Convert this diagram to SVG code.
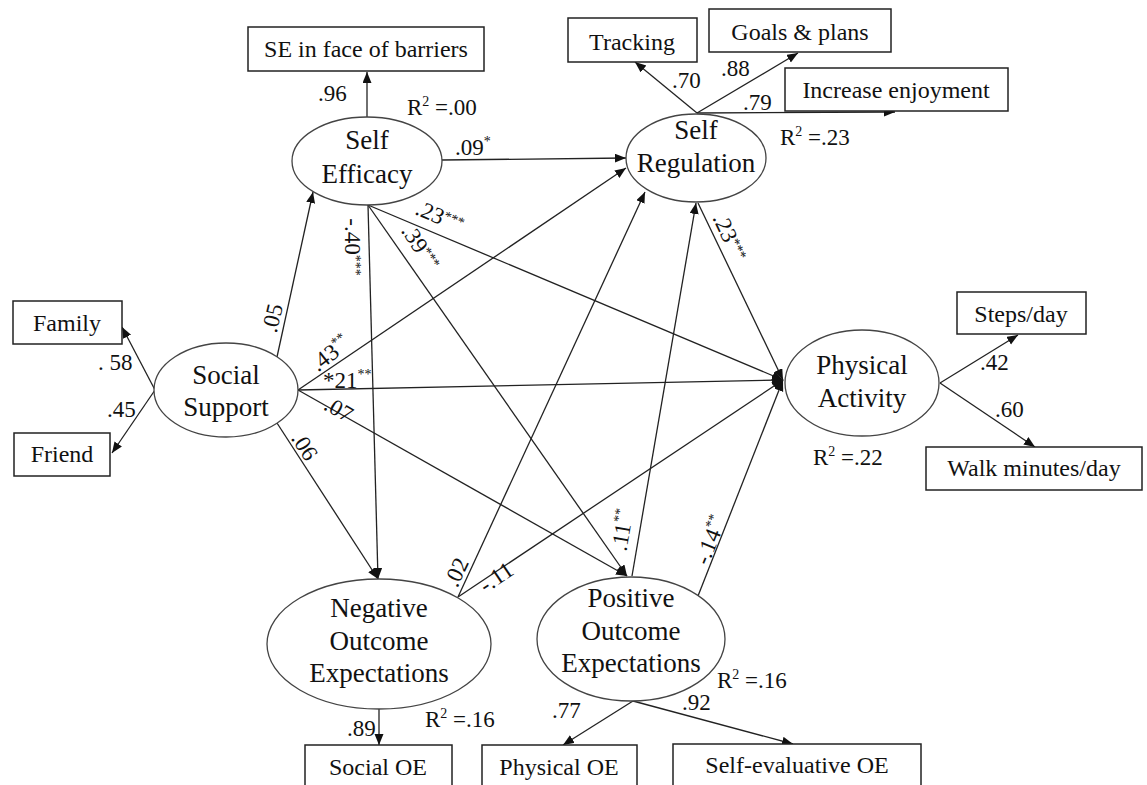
<svg xmlns="http://www.w3.org/2000/svg" width="1147" height="785" viewBox="0 0 1147 785">
<defs>
<marker id="ah" markerUnits="userSpaceOnUse" markerWidth="12" markerHeight="10" refX="11" refY="4.5" orient="auto">
<path d="M0,0 L11,4.5 L0,9 z" fill="#111"/>
</marker>
<style>
.ln{stroke:#222;stroke-width:1.3;fill:none;marker-end:url(#ah)}
.el{fill:#fff;stroke:#444;stroke-width:1.3}
.bx{fill:#fff;stroke:#222;stroke-width:1.5}
.nt{font-family:"Liberation Serif",serif;font-size:27px;text-anchor:middle;fill:#111}
.bt{font-family:"Liberation Serif",serif;font-size:24px;text-anchor:middle;fill:#111}
.cf{font-family:"Liberation Serif",serif;font-size:23px;fill:#111}
.cm{font-family:"Liberation Serif",serif;font-size:23px;fill:#111;text-anchor:middle}
.sp{font-size:14px}
</style>
</defs>
<rect width="1147" height="785" fill="#fff"/>
<g id="connectors">
<line class="ln" x1="367" y1="117" x2="367" y2="72"/>
<line class="ln" x1="442" y1="160" x2="626" y2="158"/>
<line class="ln" x1="368" y1="205" x2="783" y2="380"/>
<line class="ln" x1="368" y1="205" x2="627" y2="576"/>
<line class="ln" x1="368" y1="205" x2="378" y2="579"/>
<line class="ln" x1="277" y1="357" x2="313" y2="192"/>
<line class="ln" x1="298" y1="390" x2="626" y2="168"/>
<line class="ln" x1="298" y1="390" x2="783" y2="380"/>
<line class="ln" x1="298" y1="390" x2="627" y2="576"/>
<line class="ln" x1="277" y1="423" x2="378" y2="579"/>
<line class="ln" x1="155" y1="390" x2="122" y2="327"/>
<line class="ln" x1="155" y1="390" x2="112" y2="453"/>
<line class="ln" x1="458" y1="597" x2="645" y2="192"/>
<line class="ln" x1="458" y1="597" x2="783" y2="380"/>
<line class="ln" x1="632" y1="576" x2="696" y2="203"/>
<line class="ln" x1="698" y1="596" x2="783" y2="380"/>
<line class="ln" x1="698" y1="203" x2="783" y2="380"/>
<line class="ln" x1="697" y1="113" x2="635" y2="62"/>
<line class="ln" x1="697" y1="113" x2="798" y2="53"/>
<line class="ln" x1="697" y1="113" x2="895" y2="112"/>
<line class="ln" x1="940" y1="383" x2="1018" y2="335"/>
<line class="ln" x1="940" y1="383" x2="1035" y2="447"/>
<line class="ln" x1="379" y1="709" x2="379" y2="745"/>
<line class="ln" x1="633" y1="701" x2="563" y2="745"/>
<line class="ln" x1="633" y1="701" x2="793" y2="744"/>
</g>
<g id="labels">
<text class="cf" x="318" y="101">.96</text>
<text class="cf" x="407" y="115">R<tspan class="sp" dy="-9">2</tspan><tspan dy="9"> =.00</tspan></text>
<text class="cf" x="455" y="155">.09<tspan class="sp" dy="-9">*</tspan></text>
<text class="cf" x="672" y="88">.70</text>
<text class="cf" x="721" y="76">.88</text>
<text class="cf" x="743" y="110">.79</text>
<text class="cf" x="780" y="145">R<tspan class="sp" dy="-9">2</tspan><tspan dy="9"> =.23</tspan></text>
<text class="cf" x="98" y="370">. 58</text>
<text class="cf" x="107" y="417">.45</text>
<text class="cf" x="980" y="370">.42</text>
<text class="cf" x="995" y="417">.60</text>
<text class="cf" x="813" y="465">R<tspan class="sp" dy="-9">2</tspan><tspan dy="9"> =.22</tspan></text>
<text class="cf" x="347" y="736">.89</text>
<text class="cf" x="425" y="727">R<tspan class="sp" dy="-9">2</tspan><tspan dy="9"> =.16</tspan></text>
<text class="cf" x="552" y="718">.77</text>
<text class="cf" x="682" y="710">.92</text>
<text class="cf" x="717" y="688">R<tspan class="sp" dy="-9">2</tspan><tspan dy="9"> =.16</tspan></text>
<text class="cf" x="323" y="388">*21<tspan class="sp" dy="-9">**</tspan></text>
<text class="cm" transform="translate(272,318) rotate(-77)" y="8">.05</text>
<text class="cm" transform="translate(353,247) rotate(90)" y="8">-.40<tspan class="sp" dy="-6">***</tspan></text>
<text class="cm" transform="translate(440,216) rotate(23)" y="8">.23<tspan class="sp" dy="-6">***</tspan></text>
<text class="cm" transform="translate(421,247) rotate(56)" y="8">.39<tspan class="sp" dy="-6">***</tspan></text>
<text class="cm" transform="translate(330,353) rotate(-38)" y="8">.43<tspan class="sp" dy="-9">**</tspan></text>
<text class="cm" transform="translate(339,409) rotate(30)" y="8">.07</text>
<text class="cm" transform="translate(305,446) rotate(57)" y="8">.06</text>
<text class="cm" transform="translate(456,572) rotate(-65)" y="8">.02</text>
<text class="cm" transform="translate(496,577) rotate(-34)" y="8">-.11</text>
<text class="cm" transform="translate(622,530) rotate(-80)" y="8">.11<tspan class="sp" dy="-9">**</tspan></text>
<text class="cm" transform="translate(710,540) rotate(-68)" y="8">-.14<tspan class="sp" dy="-9">**</tspan></text>
<text class="cm" transform="translate(730,237) rotate(65)" y="8">.23<tspan class="sp" dy="-6">***</tspan></text>
</g>
<g id="self-efficacy">
<ellipse class="el" cx="367" cy="161" rx="75" ry="44"/>
<text class="nt" x="367" y="149">Self</text>
<text class="nt" x="367" y="183">Efficacy</text>
</g>
<g id="self-regulation">
<ellipse class="el" cx="696" cy="158" rx="70" ry="44"/>
<text class="nt" x="696" y="139">Self</text>
<text class="nt" x="696" y="172">Regulation</text>
</g>
<g id="social-support">
<ellipse class="el" cx="226" cy="390" rx="72" ry="47"/>
<text class="nt" x="226" y="384">Social</text>
<text class="nt" x="226" y="416">Support</text>
</g>
<g id="physical-activity">
<ellipse class="el" cx="862" cy="383" rx="77" ry="53"/>
<text class="nt" x="862" y="374">Physical</text>
<text class="nt" x="862" y="407">Activity</text>
</g>
<g id="negative-oe">
<ellipse class="el" cx="379" cy="644" rx="112" ry="65"/>
<text class="nt" x="379" y="617">Negative</text>
<text class="nt" x="379" y="650">Outcome</text>
<text class="nt" x="379" y="682">Expectations</text>
</g>
<g id="positive-oe">
<ellipse class="el" cx="631" cy="639" rx="94" ry="62"/>
<text class="nt" x="631" y="607">Positive</text>
<text class="nt" x="631" y="640">Outcome</text>
<text class="nt" x="631" y="672">Expectations</text>
</g>
<g id="se-barriers"><rect class="bx" x="248" y="27" width="236" height="44"/><text class="bt" x="366" y="57">SE in face of barriers</text></g>
<g id="tracking"><rect class="bx" x="568" y="18" width="129" height="44"/><text class="bt" x="632" y="50">Tracking</text></g>
<g id="goals"><rect class="bx" x="709" y="9" width="182" height="43"/><text class="bt" x="800" y="40">Goals &amp; plans</text></g>
<g id="enjoyment"><rect class="bx" x="785" y="68" width="223" height="43"/><text class="bt" x="896" y="98">Increase enjoyment</text></g>
<g id="family"><rect class="bx" x="13" y="301" width="109" height="43"/><text class="bt" x="67" y="331">Family</text></g>
<g id="friend"><rect class="bx" x="14" y="433" width="96" height="43"/><text class="bt" x="62" y="462">Friend</text></g>
<g id="steps"><rect class="bx" x="957" y="292" width="129" height="42"/><text class="bt" x="1021" y="322">Steps/day</text></g>
<g id="walk"><rect class="bx" x="926" y="447" width="216" height="43"/><text class="bt" x="1034" y="476">Walk minutes/day</text></g>
<g id="social-oe"><rect class="bx" x="305" y="745" width="147" height="50"/><text class="bt" x="378" y="775">Social OE</text></g>
<g id="physical-oe"><rect class="bx" x="482" y="745" width="155" height="50"/><text class="bt" x="559" y="775">Physical OE</text></g>
<g id="self-eval-oe"><rect class="bx" x="673" y="744" width="248" height="50"/><text class="bt" x="797" y="773">Self-evaluative OE</text></g>
</svg>
